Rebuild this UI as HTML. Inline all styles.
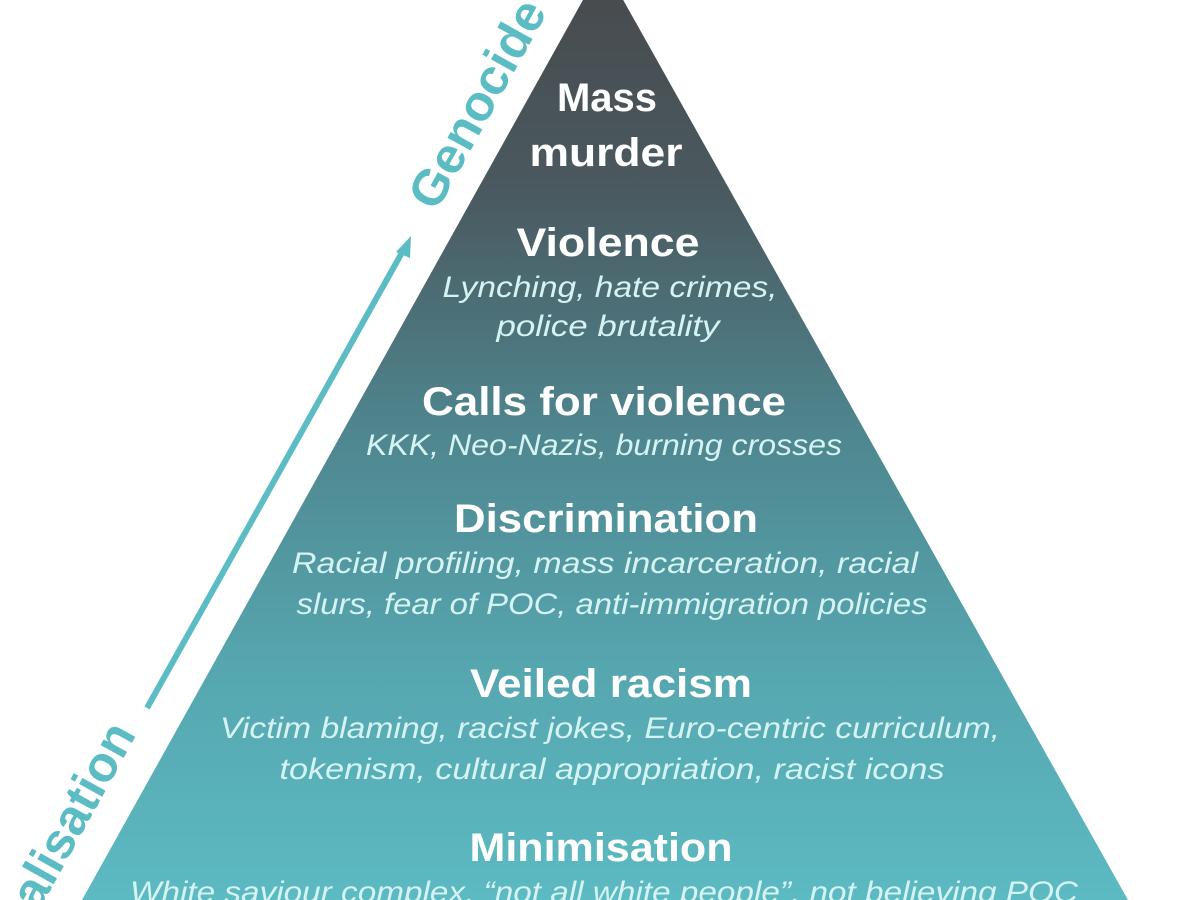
<!DOCTYPE html>
<html><head><meta charset="utf-8"><style>
html,body{margin:0;padding:0;background:#fff;width:1200px;height:900px;overflow:hidden}
svg{display:block}
.t{font-family:"Liberation Sans",sans-serif;font-weight:bold;font-size:40px;fill:#fff}
.s{font-family:"Liberation Sans",sans-serif;font-style:italic;font-size:30px;fill:#d6f3f3}
.g{font-family:"Liberation Sans",sans-serif;font-weight:bold;font-size:50px;fill:#5bbcc4}
</style></head><body>
<svg width="1200" height="900" viewBox="0 0 1200 900">
<defs><linearGradient id="gr" x1="0" y1="0" x2="0" y2="1">
<stop offset="0" stop-color="#47494c"/>
<stop offset="0.25" stop-color="#4a5a60"/>
<stop offset="0.5" stop-color="#4f868f"/>
<stop offset="0.75" stop-color="#56a6af"/>
<stop offset="1" stop-color="#5cbac2"/>
</linearGradient></defs>
<polygon points="603,-36 1128,900 82,900" fill="url(#gr)"/>
<line x1="147" y1="708" x2="404" y2="249" stroke="#5bbcc4" stroke-width="6"/>
<polygon points="411,236 396,252 410,258" fill="#5bbcc4"/>
<text class="g" transform="translate(492,112) rotate(-61)" text-anchor="middle" textLength="230" lengthAdjust="spacingAndGlyphs">Genocide</text>
<text class="g" transform="translate(56,880) rotate(-61)" text-anchor="middle">Normalisation</text>
<g text-anchor="middle" lengthAdjust="spacingAndGlyphs">
<text class="t" x="607" y="111" textLength="100" lengthAdjust="spacingAndGlyphs">Mass</text>
<text class="t" x="606" y="166" textLength="153" lengthAdjust="spacingAndGlyphs">murder</text>
<text class="t" x="608" y="256" textLength="183" lengthAdjust="spacingAndGlyphs">Violence</text>
<text class="s" x="610" y="297" textLength="335" lengthAdjust="spacingAndGlyphs">Lynching, hate crimes,</text>
<text class="s" x="608" y="336" textLength="223" lengthAdjust="spacingAndGlyphs">police brutality</text>
<text class="t" x="604" y="415" textLength="364" lengthAdjust="spacingAndGlyphs">Calls for violence</text>
<text class="s" x="604" y="455" textLength="476" lengthAdjust="spacingAndGlyphs">KKK, Neo-Nazis, burning crosses</text>
<text class="t" x="606" y="532" textLength="304" lengthAdjust="spacingAndGlyphs">Discrimination</text>
<text class="s" x="605" y="573" textLength="626" lengthAdjust="spacingAndGlyphs">Racial profiling, mass incarceration, racial</text>
<text class="s" x="612" y="614" textLength="631" lengthAdjust="spacingAndGlyphs">slurs, fear of POC, anti-immigration policies</text>
<text class="t" x="611" y="697" textLength="282" lengthAdjust="spacingAndGlyphs">Veiled racism</text>
<text class="s" x="610" y="738" textLength="780" lengthAdjust="spacingAndGlyphs">Victim blaming, racist jokes, Euro-centric curriculum,</text>
<text class="s" x="612" y="779" textLength="665" lengthAdjust="spacingAndGlyphs">tokenism, cultural appropriation, racist icons</text>
<text class="t" x="601" y="861" textLength="263" lengthAdjust="spacingAndGlyphs">Minimisation</text>
<text class="s" x="604" y="902" textLength="948" lengthAdjust="spacingAndGlyphs">White saviour complex, “not all white people”, not believing POC</text>
</g>
</svg>
</body></html>
